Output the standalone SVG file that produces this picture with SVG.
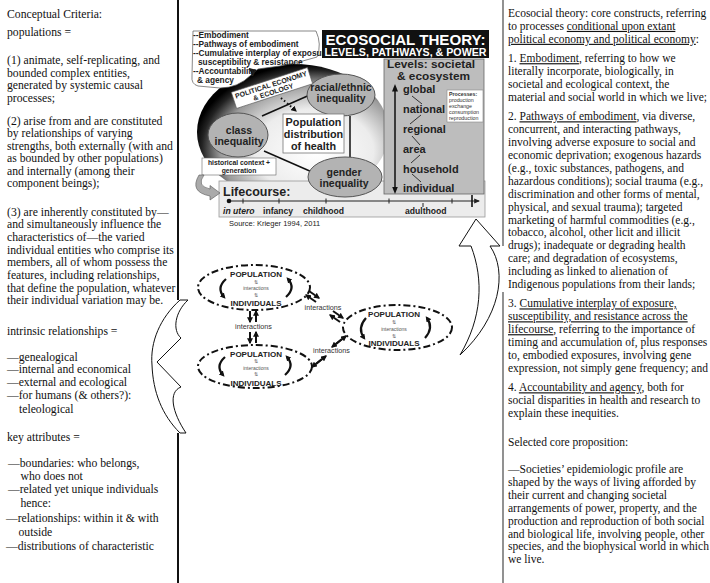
<svg xmlns="http://www.w3.org/2000/svg" width="710" height="583" viewBox="0 0 710 583">
<style>
.col{font-family:"Liberation Serif","Times New Roman",serif;font-size:11.5px;fill:#111}
.lc{font-size:11.7px}
.u{text-decoration:underline}
.fb{font-family:"Liberation Sans",Arial,sans-serif;font-weight:bold;fill:#222}
.sep{stroke:#111;stroke-width:2;fill:none}
.oval{fill:#b3b3b3;stroke:#555;stroke-width:1}
.ln{stroke:#111;stroke-width:1.5;fill:none}
.dd{fill:none;stroke:#111;stroke-width:2;stroke-dasharray:7 3 2 3}
.pa{stroke:#111;stroke-width:2;fill:none;marker-end:url(#ah)}
.ca{stroke:#111;stroke-width:2.2;fill:none;marker-end:url(#ah2)}
.big{fill:#fff;stroke:#111;stroke-width:1}
.it{font-family:"Liberation Sans",Arial,sans-serif;font-size:7.2px;fill:#333}
.tiny{font-family:"Liberation Sans",Arial,sans-serif;font-size:5px;fill:#555}
.sym{font-family:"DejaVu Sans",sans-serif;font-size:5px;fill:#555}
</style>
<defs>
<radialGradient id="rg" cx="0.6" cy="0.62" r="0.62" fx="0.62" fy="0.66">
<stop offset="0" stop-color="#fff"/>
<stop offset="0.5" stop-color="#ececec"/>
<stop offset="0.78" stop-color="#9a9a9a"/>
<stop offset="0.93" stop-color="#222"/>
<stop offset="1" stop-color="#000"/>
</radialGradient>
<marker id="ah" viewBox="0 0 10 10" refX="8" refY="5" markerWidth="3" markerHeight="3" orient="auto"><path d="M0,0 L10,5 L0,10 Z" fill="#111"/></marker>
<marker id="ah2" viewBox="0 0 10 10" refX="6" refY="5" markerWidth="2.6" markerHeight="2.6" orient="auto"><path d="M0,0 L10,5 L0,10 Z" fill="#111"/></marker>
<marker id="ta" viewBox="0 0 10 10" refX="8" refY="5" markerWidth="5" markerHeight="5" orient="auto"><path d="M0,1 L10,5 L0,9 Z" fill="#222"/></marker>
<marker id="tas" viewBox="0 0 10 10" refX="2" refY="5" markerWidth="5" markerHeight="5" orient="auto-start-reverse"><path d="M0,1 L10,5 L0,9 Z" fill="#111"/></marker>
</defs>
<rect width="710" height="583" fill="#fff"/>

<g id="separators">
<path class="sep" d="M178,0 V300 M178,433 V583"/>
<path d="M503,0 V246 M503,292 V583" stroke="#777" stroke-width="1.6" fill="none"/>
</g>

<g id="left-column" class="col lc">
<text x="7" y="18">Conceptual Criteria:</text>
<text x="7" y="35.5">populations =</text>
<text x="7" y="64">(1) animate, self-replicating, and</text>
<text x="7" y="76.5">bounded complex entities,</text>
<text x="7" y="89">generated by systemic causal</text>
<text x="7" y="101.5">processes;</text>
<text x="7" y="124.5">(2) arise from and are constituted</text>
<text x="7" y="137">by relationships of varying</text>
<text x="7" y="149.5">strengths, both externally (with and</text>
<text x="7" y="162">as bounded by other populations)</text>
<text x="7" y="174.5">and internally (among their</text>
<text x="7" y="187">component beings);</text>
<text x="7" y="215.5">(3) are inherently constituted by—</text>
<text x="7" y="228.2">and simultaneously influence the</text>
<text x="7" y="240.9">characteristics of—the varied</text>
<text x="7" y="253.6">individual entities who comprise its</text>
<text x="7" y="266.3">members, all of whom possess the</text>
<text x="7" y="279">features, including relationships,</text>
<text x="7" y="291.7">that define the population, whatever</text>
<text x="7" y="304.4">their individual variation may be.</text>
<text x="7" y="335">intrinsic relationships =</text>
<text x="7" y="360.7">—genealogical</text>
<text x="7" y="373.4">—internal and economical</text>
<text x="7" y="386.1">—external and ecological</text>
<text x="7" y="398.8">—for humans (&amp; others?):</text>
<text x="19" y="412.5">teleological</text>
<text x="7" y="440.5">key attributes =</text>
<text x="8" y="467">—boundaries: who belongs,</text>
<text x="20.5" y="480">who does not</text>
<text x="8" y="493">—related yet unique individuals</text>
<text x="20.5" y="506.5">hence:</text>
<text x="6" y="522">—relationships: within it &amp; with</text>
<text x="18.5" y="535.5">outside</text>
<text x="6" y="549.5">—distributions of characteristic</text>
</g>

<g id="right-column" class="col">
<text x="508" y="17">Ecosocial theory: core constructs, referring</text>
<text x="508" y="29.9">to processes <tspan class="u">conditional upon extant</tspan></text>
<text x="508" y="42.8"><tspan class="u">political economy and political economy</tspan>:</text>
<text x="508" y="62.2">1. <tspan class="u">Embodiment</tspan>, referring to how we</text>
<text x="508" y="75.1">literally incorporate, biologically, in</text>
<text x="508" y="88">societal and ecological context, the</text>
<text x="508" y="100.9">material and social world in which we live;</text>
<text x="508" y="120.3">2. <tspan class="u">Pathways of embodiment</tspan>, via diverse,</text>
<text x="508" y="133.2">concurrent, and interacting pathways,</text>
<text x="508" y="146.1">involving adverse exposure to social and</text>
<text x="508" y="159">economic deprivation; exogenous hazards</text>
<text x="508" y="171.9">(e.g., toxic substances, pathogens, and</text>
<text x="508" y="184.8">hazardous conditions); social trauma (e.g.,</text>
<text x="508" y="197.7">discrimination and other forms of mental,</text>
<text x="508" y="210.6">physical, and sexual trauma); targeted</text>
<text x="508" y="223.5">marketing of harmful commodities (e.g.,</text>
<text x="508" y="236.4">tobacco, alcohol, other licit and illicit</text>
<text x="508" y="249.3">drugs); inadequate or degrading health</text>
<text x="508" y="262.2">care; and degradation of ecosystems,</text>
<text x="508" y="275.1">including as linked to alienation of</text>
<text x="508" y="288">Indigenous populations from their lands;</text>
<text x="508" y="307.4">3. <tspan class="u">Cumulative interplay of exposure,</tspan></text>
<text x="508" y="320.3"><tspan class="u">susceptibility, and resistance across the</tspan></text>
<text x="508" y="333.2"><tspan class="u">lifecourse</tspan>, referring to the importance of</text>
<text x="508" y="346.1">timing and accumulation of, plus responses</text>
<text x="508" y="359">to, embodied exposures, involving gene</text>
<text x="508" y="371.9">expression, not simply gene frequency; and</text>
<text x="508" y="391.3">4. <tspan class="u">Accountability and agency</tspan>, both for</text>
<text x="508" y="404.2">social disparities in health and research to</text>
<text x="508" y="417.1">explain these inequities.</text>
<text x="508" y="446">Selected core proposition:</text>
<text x="508" y="473">—Societies’ epidemiologic profile are</text>
<text x="508" y="485.9">shaped by the ways of living afforded by</text>
<text x="508" y="498.8">their current and changing societal</text>
<text x="508" y="511.7">arrangements of power, property, and the</text>
<text x="508" y="524.6">production and reproduction of both social</text>
<text x="508" y="537.5">and biological life, involving people, other</text>
<text x="508" y="550.4">species, and the biophysical world in which</text>
<text x="508" y="563.3">we live.</text>
</g>

<g id="ecosocial-figure">
<ellipse cx="293" cy="132" rx="96" ry="68" fill="url(#rg)"/>
<g id="bubble">
<path d="M193,31 L316,31 Q322,44 317,57 Q298,63 280,66 L258,69 L251,75 Q238,88 220,88 L198,86 Q191,84 192,76 Z" fill="#fff" stroke="#555" stroke-width="0.7"/>
<polygon points="249,68 257,70 252,76" fill="#111"/>
<g class="fb" font-size="8.3px">
<text x="193" y="38">--Embodiment</text>
<text x="193" y="47">--Pathways of embodiment</text>
<text x="193" y="56">--Cumulative interplay of exposure,</text>
<text x="198" y="65">susceptibility &amp; resistance</text>
<text x="193" y="74">--Accountability</text>
<text x="197" y="83">&amp; agency</text>
</g>
</g>
<g id="title">
<rect x="322" y="30" width="167" height="28" fill="#111"/>
<text x="405.5" y="45" text-anchor="middle" font-family="Liberation Sans, Arial, sans-serif" font-weight="bold" font-size="14.5px" fill="#fff" textLength="160" lengthAdjust="spacingAndGlyphs">ECOSOCIAL THEORY:</text>
<text x="405.5" y="55.5" text-anchor="middle" font-family="Liberation Sans, Arial, sans-serif" font-weight="bold" font-size="10px" fill="#fff" textLength="162" lengthAdjust="spacingAndGlyphs">LEVELS, PATHWAYS, &amp; POWER</text>
</g>
<g id="lifecourse">
<rect x="219" y="181" width="266" height="36" fill="#ececec" stroke="#999" stroke-width="0.8"/>
<text x="223" y="195.5" class="fb" font-size="12.5px">Lifecourse:</text>
<line x1="229" y1="201" x2="479" y2="201" stroke="#222" stroke-width="1.2" marker-end="url(#ta)"/>
<circle cx="229" cy="201" r="2.3" fill="#111"/>
<path d="M243,198.5 V203.5 M279,198.5 V203.5 M326,198.5 V203.5 M389,198.5 V203.5 M452,198.5 V203.5 M423,203 V207" stroke="#222" stroke-width="1"/>
<path d="M472,195 V207" stroke="#111" stroke-width="1.6"/>
<g class="fb" font-size="8.6px">
<text x="223" y="213.5" font-style="italic">in utero</text>
<text x="263" y="213.5">infancy</text>
<text x="303" y="213.5">childhood</text>
<text x="405" y="213.5">adulthood</text>
</g>
<text x="229" y="225.5" font-family="Liberation Sans, Arial, sans-serif" font-size="7.5px" fill="#222">Source: Krieger 1994, 2011</text>
</g>
<g id="levels">
<rect x="384" y="59" width="100" height="135" fill="#bdbdbd" stroke="#666" stroke-width="0.8"/>
<text x="387" y="68" class="fb" font-size="11.5px" textLength="88" lengthAdjust="spacingAndGlyphs">Levels: societal</text>
<text x="397" y="79.5" class="fb" font-size="11.5px" textLength="73" lengthAdjust="spacingAndGlyphs">&amp; ecosystem</text>
<line x1="395" y1="90" x2="395" y2="188" stroke="#111" stroke-width="1.5" marker-start="url(#tas)" marker-end="url(#tas)"/>
<g class="fb" font-size="11px">
<text x="403" y="93">global</text>
<text x="403" y="113">national</text>
<text x="403" y="133">regional</text>
<text x="403" y="153">area</text>
<text x="403" y="172.5">household</text>
<text x="403" y="192">individual</text>
</g>
<path d="M412,96 L422,104 M421,115 L410,124 M412,136 L420,145 M420,155 L411,163 M412,174 L421,182" stroke="#222" stroke-width="0.9" fill="none"/>
<rect x="447" y="90" width="36" height="32" fill="#fff" stroke="#888" stroke-width="0.6"/>
<g font-family="Liberation Sans, Arial, sans-serif" font-size="5.3px" fill="#333">
<text x="449" y="96" font-weight="bold">Processes:</text>
<text x="449" y="102">production</text>
<text x="449" y="108">exchange</text>
<text x="449" y="114">consumption</text>
<text x="449" y="120">reproduction</text>
</g>
</g>
<g id="inequality-links">
<line class="ln" x1="262" y1="116" x2="312" y2="94"/>
<line class="ln" x1="264" y1="151" x2="312" y2="172"/>
<line class="ln" x1="350" y1="116" x2="350" y2="157"/>
<line x1="281" y1="98" x2="296" y2="111" stroke="#111" stroke-width="2" stroke-dasharray="1.5 2.5" marker-end="url(#ah)"/>
</g>
<g id="racial">
<ellipse class="oval" cx="341" cy="95" rx="34" ry="21"/>
<text x="341" y="90.5" text-anchor="middle" class="fb" font-size="10.5px">racial/ethnic</text>
<text x="341" y="102" text-anchor="middle" class="fb" font-size="10.5px">inequality</text>
</g>
<g id="class">
<ellipse class="oval" cx="238" cy="135" rx="30" ry="22"/>
<text x="239" y="133.5" text-anchor="middle" class="fb" font-size="10.5px">class</text>
<text x="239" y="145" text-anchor="middle" class="fb" font-size="10.5px">inequality</text>
</g>
<g id="gender">
<ellipse class="oval" cx="345" cy="177" rx="37" ry="20"/>
<text x="344" y="175.5" text-anchor="middle" class="fb" font-size="10.5px">gender</text>
<text x="344" y="187" text-anchor="middle" class="fb" font-size="10.5px">inequality</text>
</g>
<g id="population-health">
<rect x="283" y="114" width="61" height="39" fill="#fff" stroke="#777" stroke-width="0.8"/>
<text x="313.5" y="125.5" text-anchor="middle" class="fb" font-size="10.8px">Population</text>
<text x="313.5" y="137.5" text-anchor="middle" class="fb" font-size="10.8px">distribution</text>
<text x="313.5" y="149.5" text-anchor="middle" class="fb" font-size="10.8px">of health</text>
</g>
<g id="political-economy" transform="translate(272,88) rotate(-18)">
<rect x="-40" y="-8.5" width="80" height="17" fill="#fff" stroke="#555" stroke-width="0.6"/>
<text x="0" y="-1" text-anchor="middle" class="fb" font-size="7px">POLITICAL ECONOMY</text>
<text x="0" y="6.5" text-anchor="middle" class="fb" font-size="7px">&amp; ECOLOGY</text>
</g>
<g id="historical-context">
<rect x="202" y="158" width="74" height="17" fill="#fff" stroke="#666" stroke-width="0.6"/>
<text x="239" y="164.8" text-anchor="middle" class="fb" font-size="6.8px">historical context +</text>
<text x="239" y="172.6" text-anchor="middle" class="fb" font-size="6.8px">generation</text>
<path d="M204,175 Q196,186 210,189 L210,185.5 L220,193 L210,200 L210,196 Q189,192 199,175 Z" fill="#aaa" stroke="#555" stroke-width="0.6"/>
</g>
</g>

<g id="population-diagram">
<g id="pop-top">
<ellipse class="dd" cx="254" cy="287.5" rx="56" ry="22.5"/>
<text x="256" y="277" text-anchor="middle" class="fb" font-size="8px">POPULATION</text>
<text x="256" y="283.5" text-anchor="middle" class="sym">⇅</text>
<text x="256" y="290" text-anchor="middle" class="tiny">interactions</text>
<text x="256" y="296.5" text-anchor="middle" class="sym">⇅</text>
<text x="256" y="305.5" text-anchor="middle" class="fb" font-size="8px">INDIVIDUALS</text>
<path class="ca" d="M226,279 Q216,288 224,297"/>
<path class="ca" d="M286,297 Q296,288 288,279"/>
</g>
<g id="pop-bottom">
<ellipse class="dd" cx="255" cy="366.5" rx="57" ry="21.5"/>
<text x="256" y="357" text-anchor="middle" class="fb" font-size="8px">POPULATION</text>
<text x="256" y="363" text-anchor="middle" class="sym">⇅</text>
<text x="256" y="369.5" text-anchor="middle" class="tiny">interactions</text>
<text x="256" y="376" text-anchor="middle" class="sym">⇅</text>
<text x="256" y="385.5" text-anchor="middle" class="fb" font-size="8px">INDIVIDUALS</text>
<path class="ca" d="M225,357 Q215,366 223,375"/>
<path class="ca" d="M285,375 Q295,366 287,357"/>
</g>
<g id="pop-right">
<ellipse class="dd" cx="397.5" cy="327.5" rx="54.5" ry="22.5"/>
<text x="394" y="317" text-anchor="middle" class="fb" font-size="8px">POPULATION</text>
<text x="394" y="324" text-anchor="middle" class="sym">⇅</text>
<text x="394" y="331" text-anchor="middle" class="tiny">interactions</text>
<text x="394" y="338" text-anchor="middle" class="sym">⇅</text>
<text x="394" y="346" text-anchor="middle" class="fb" font-size="8px">INDIVIDUALS</text>
<path class="ca" d="M366,318 Q357,328 364,338"/>
<path class="ca" d="M425,338 Q434,328 427,318"/>
</g>
<g id="connectors">
<path class="pa" d="M250,311 V322"/>
<path class="pa" d="M256,322 V311"/>
<path class="pa" d="M250,332 V343"/>
<path class="pa" d="M256,343 V332"/>
<text x="253.5" y="329" text-anchor="middle" class="it">interactions</text>
<path class="pa" d="M309,291 L319,298"/>
<path class="pa" d="M316,302 L306,295"/>
<path class="pa" d="M333,311 L343,318"/>
<path class="pa" d="M340,322 L330,315"/>
<text x="323" y="310" text-anchor="middle" class="it">interactions</text>
<path class="pa" d="M336,344 L346,336"/>
<path class="pa" d="M342,339 L332,347"/>
<path class="pa" d="M316,364 L326,356"/>
<path class="pa" d="M322,359 L312,367"/>
<text x="331.5" y="352.5" text-anchor="middle" class="it">interactions</text>
</g>
</g>

<g id="left-arrow">
<path class="big" d="M180,300 C160,318 150,342 152,365 C153,392 162,415 180,433 L186,433 C172,412 168,392 181,387 L157,362 L181,338 C172,330 175,312 188,300 Z"/>
</g>
<g id="right-arrow">
<path class="big" d="M476,219 L500,246 L490,246 C508,272 500,318 460,355 C482,318 484,280 471,246 L459,246 Z"/>
</g>
</svg>
